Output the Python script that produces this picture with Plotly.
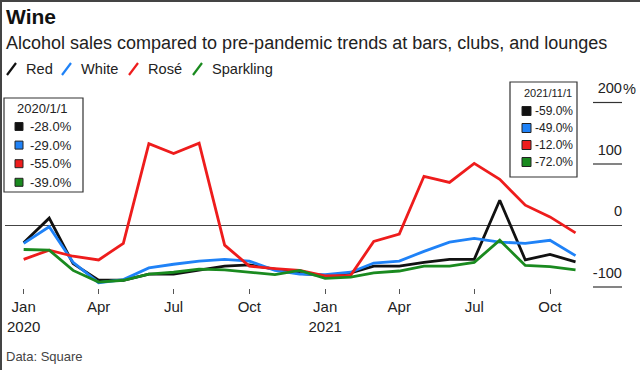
import plotly.graph_objects as go

# ---------------- data ----------------
months = ["2020-01-01", "2020-02-01", "2020-03-01", "2020-04-01", "2020-05-01", "2020-06-01",
          "2020-07-01", "2020-08-01", "2020-09-01", "2020-10-01", "2020-11-01", "2020-12-01",
          "2021-01-01", "2021-02-01", "2021-03-01", "2021-04-01", "2021-05-01", "2021-06-01",
          "2021-07-01", "2021-08-01", "2021-09-01", "2021-10-01", "2021-11-01"]

red = [-28, 12, -62, -89, -89, -79, -79, -72, -66, -64, -71, -78,
       -82, -77, -66, -66, -60, -55, -55, 41, -56, -47, -59]
white = [-29, -2, -60, -93, -88, -69, -63, -58, -55, -58, -73, -79,
         -80, -76, -61, -58, -42, -27, -21, -27, -29, -24, -49]
rose = [-55, -40, -50, -56, -29, 133, 117, 134, -32, -66, -70, -73,
        -82, -81, -26, -14, 80, 70, 101, 75, 33, 14, -12]
sparkling = [-39, -40, -73, -92, -89, -79, -76, -71, -72, -76, -80, -73,
             -86, -84, -77, -74, -66, -66, -60, -24, -65, -67, -72]

series_names = ["Red", "White", "Rosé", "Sparkling"]
series_values = [red, white, rose, sparkling]
series_colors = ["#111111", "#1f82f7", "#ee1c1c", "#1a8a1f"]

x_tick_vals = ["2020-01-01", "2020-04-01", "2020-07-01", "2020-10-01",
               "2021-01-01", "2021-04-01", "2021-07-01", "2021-10-01"]
x_tick_text = ["Jan<br>2020", "Apr", "Jul", "Oct", "Jan<br>2021", "Apr", "Jul", "Oct"]
y_tick_vals = [-100, 0, 100, 200]
y_tick_text = ["-100", "0", "100", "200"]
y_unit = "%"

box_dates = ["2020/1/1", "2021/11/1"]

# ---------------- layout geometry (pixels) ----------------
W, H = 640, 370
L, R, T, B = 5, 622, 60, 288
PW, PH = R - L, B - T
FONT = "Liberation Sans, Arial, Helvetica, sans-serif"


def px(x):
    return (x - L) / PW


def py(y):
    return (B - y) / PH


fig = go.Figure()
for name, vals, col in zip(series_names, series_values, series_colors):
    fig.add_trace(go.Scatter(x=months, y=vals, mode="lines", name=name,
                             line=dict(color=col, width=2.8), showlegend=False,
                             hoverinfo="skip"))

shapes = []
annotations = []

# short right-side gridlines
for v in y_tick_vals:
    if v != 0:
        shapes.append(dict(type="line", xref="paper", yref="y", x0=px(593), x1=1,
                           y0=v, y1=v, line=dict(color="#333333", width=1.2)))

# unit suffix hanging after the top tick label
annotations.append(dict(text=y_unit, xref="paper", yref="y", x=1, y=max(y_tick_vals),
                        xanchor="left", yanchor="middle", yshift=13.5, xshift=-1, showarrow=False,
                        font=dict(size=14.6, color="#222222", family=FONT)))

# frame at the top/left edge of the image
shapes.append(dict(type="line", xref="paper", yref="paper", x0=px(1), x1=px(1),
                   y0=py(0), y1=py(H), line=dict(color="#444444", width=2)))
shapes.append(dict(type="line", xref="paper", yref="paper", x0=px(0), x1=px(W),
                   y0=py(1), y1=py(1), line=dict(color="#444444", width=2)))

# title / subtitle / source
annotations.append(dict(text="<b>Wine</b>", xref="paper", yref="paper", x=px(4), y=py(17),
                        xanchor="left", yanchor="middle", showarrow=False,
                        font=dict(size=21, color="#111111", family=FONT)))
annotations.append(dict(text="Alcohol sales compared to pre-pandemic trends at bars, clubs, and lounges",
                        xref="paper", yref="paper", x=px(4), y=py(43), xanchor="left",
                        yanchor="middle", showarrow=False,
                        font=dict(size=18, color="#222222", family=FONT)))
annotations.append(dict(text="Data: Square", xref="paper", yref="paper", x=px(4), y=py(356),
                        xanchor="left", yanchor="middle", showarrow=False,
                        font=dict(size=13, color="#444444", family=FONT)))

# legend row (slash + name)
legend_slash_x = [7, 62, 129, 193]
for name, col, sx in zip(series_names, series_colors, legend_slash_x):
    shapes.append(dict(type="line", xref="paper", yref="paper", x0=px(sx), x1=px(sx + 9),
                       y0=py(75), y1=py(63), line=dict(color=col, width=2.2)))
    annotations.append(dict(text=name, xref="paper", yref="paper", x=px(sx + 17), y=py(69),
                            xanchor="left", yanchor="middle", showarrow=False,
                            font=dict(size=14.6, color="#222222", family=FONT)))

# value boxes
boxes = [
    dict(idx=0, x0=4, y0=98, x1=83, y1=192, ty=108, ry=126.5, dy=18.6, sq=15, tx=28, fs=13, tfs=13, s=8),
    dict(idx=-1, x0=510, y0=82, x1=577, y1=177, ty=93, ry=111, dy=17, sq=522, tx=533, fs=12, tfs=11, s=9),
]
for label, bx in zip(box_dates, boxes):
    shapes.append(dict(type="rect", xref="paper", yref="paper", x0=px(bx["x0"]), x1=px(bx["x1"]),
                       y0=py(bx["y0"]), y1=py(bx["y1"]), fillcolor="white",
                       line=dict(color="#333333", width=1.2), layer="above"))
    annotations.append(dict(text=label, xref="paper", yref="paper", x=px(bx["sq"]), y=py(bx["ty"]),
                            xanchor="left", yanchor="middle", showarrow=False,
                            font=dict(size=bx["tfs"], color="#222222", family=FONT)))
    for k, (vals, col) in enumerate(zip(series_values, series_colors)):
        yc = bx["ry"] + k * bx["dy"]
        s = bx["s"]
        shapes.append(dict(type="rect", xref="paper", yref="paper", x0=px(bx["sq"]),
                           x1=px(bx["sq"] + s), y0=py(yc - s / 2), y1=py(yc + s / 2),
                           fillcolor=col, line=dict(color="#222222", width=1), layer="above"))
        annotations.append(dict(text=f"{vals[bx['idx']]:.1f}%", xref="paper", yref="paper",
                                x=px(bx["tx"]), y=py(yc), xanchor="left", yanchor="middle",
                                showarrow=False,
                                font=dict(size=bx["fs"], color="#222222", family=FONT)))

# y range chosen so 0 -> y=225.5px, 0.615 px per unit
ppu = 0.615
y_top = (225.5 - T) / ppu
y_bot = -(B - 225.5) / ppu

fig.update_layout(
    width=W, height=H,
    margin=dict(l=L, r=W - R, t=T, b=H - B, pad=0),
    paper_bgcolor="white", plot_bgcolor="white",
    showlegend=False,
    font=dict(family=FONT, color="#222222"),
    shapes=shapes, annotations=annotations,
    xaxis=dict(type="date", range=["2019-12-09 08:00", "2021-12-27 10:00"],
               tickvals=x_tick_vals, ticktext=x_tick_text, showgrid=False, zeroline=False,
               showline=False, ticks="outside", ticklen=5, tickwidth=1.2, tickcolor="#555555",
               tickfont=dict(size=15, color="#222222", family=FONT)),
    yaxis=dict(range=[y_bot, y_top], side="right", tickvals=y_tick_vals, ticktext=y_tick_text,
               showgrid=False, zeroline=True, zerolinecolor="#444444", zerolinewidth=1.2,
               showline=False, ticks="", ticklabelposition="inside top", ticklabelshift=-4,
               ticklabelstandoff=-3,
               tickfont=dict(size=14.6, color="#222222", family=FONT)),
)

fig.write_html("out.html", config={"displayModeBar": False},
               post_script="document.body.style.margin='0';")
